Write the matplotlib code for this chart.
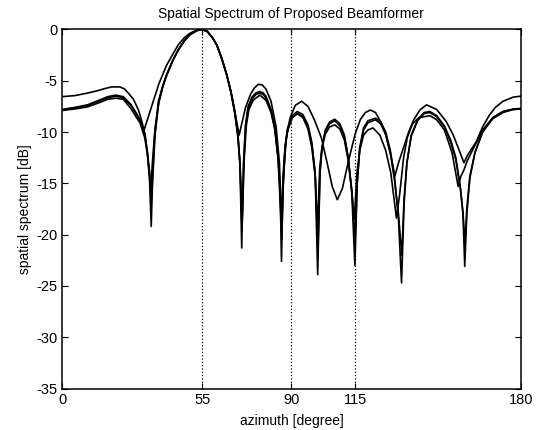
import numpy as np
import matplotlib
matplotlib.use('Agg')
import matplotlib.pyplot as plt

plt.rcParams['font.family'] = ['Liberation Sans', 'DejaVu Sans']
plt.rcParams['axes.unicode_minus'] = False

# curve A (thin, upper one)
az_a = [0, 5, 10, 13.5, 17, 19.5, 22.7, 24.5, 26, 28, 30, 31, 32.2, 33.5, 35.8, 38, 41, 43.5, 45.6, 48,
        50.2, 53, 55, 57, 59, 60.7, 62.5, 64.6, 66.3, 67.8, 69.5, 70.5, 72, 74, 75.5, 77, 78.5, 80, 82, 84,
        85.3, 86.1, 87, 88, 89.5, 91.5, 94, 96.5, 99, 101.8, 104, 106, 108, 110, 111.5, 113, 115, 117,
        119, 121, 123, 125, 127, 129, 130.6, 132, 134, 136, 138, 140.4, 143, 147, 150.8, 153.5, 156,
        157.7, 159, 162.6, 165, 167.8, 170, 173, 177, 180]
db_a = [-6.55, -6.45, -6.2, -6.0, -5.75, -5.6, -5.6, -5.8, -6.2, -6.8, -7.85, -8.7, -9.8, -8.8, -7.0,
        -5.3, -3.5, -2.4, -1.5, -0.8, -0.37, -0.05, 0, -0.2, -0.8, -1.5, -2.7, -4.4, -6.1, -8.0, -10.3,
        -9.2, -7.6, -6.3, -5.7, -5.35, -5.4, -5.8, -7.0, -9.5, -13.0, -19.5, -14.0, -10.5, -8.6, -7.4,
        -7.0, -7.5, -8.8, -10.6, -13.0, -15.3, -16.6, -15.5, -13.8, -12.2, -10.2, -8.8, -8.1, -7.85,
        -8.1, -9.0, -10.3, -12.3, -14.3, -13.0, -11.5, -10.0, -8.8, -7.85, -7.35, -7.8, -9.0, -10.3,
        -11.9, -13.0, -12.3, -10.9, -9.5, -8.3, -7.6, -7.0, -6.6, -6.5]

# curve B (deep nulls)
az_b = [0, 5, 10, 15, 18, 21, 24, 27, 29, 30.6, 32.5, 33.5, 34.3, 35, 35.6, 36.3, 37.8, 39.5, 41, 43.5,
        45.6, 48, 50.2, 53, 55, 57, 59, 60.7, 62.5, 64.6, 66.3, 67.8, 69, 69.8, 70.5, 71.2, 72, 73, 74.5,
        76, 77.6, 79, 80, 82, 83.5, 84.8, 85.6, 86.1, 86.7, 87.5, 88.5, 90.3, 92.3, 94.5, 96.5, 98, 99.3,
        100.3, 101.2, 102, 103.3, 105, 107, 109, 110.8, 112.3, 113.7, 114.9, 115.8, 116.8, 118.3, 120,
        123, 125, 127, 128.8, 130.5, 132, 133.2, 134.2, 135.3, 137, 139.5, 142, 144.3, 147, 150, 152.5,
        154.5, 156.3, 157.3, 158, 158.8, 160, 162, 165, 169, 173, 177, 180]
db_b = [-7.8, -7.6, -7.35, -6.85, -6.55, -6.4, -6.55, -7.3, -8.1, -8.8, -10.1, -12.0, -14.5, -19.2,
        -14.0, -10.5, -7.0, -5.5, -4.4, -3.0, -2.0, -1.1, -0.5, -0.1, 0, -0.2, -0.8, -1.5, -2.7, -4.4,
        -6.1, -8.0, -10.2, -13.0, -21.3, -13.0, -9.3, -7.5, -6.6, -6.2, -6.05, -6.2, -6.5, -7.8, -9.5,
        -12.5, -16.0, -22.6, -15.0, -11.5, -9.6, -8.4, -8.0, -8.3, -9.3, -11.0, -14.0, -23.9, -14.0,
        -11.5, -9.8, -9.0, -8.75, -9.2, -10.3, -12.5, -16.0, -23.0, -15.0, -11.5, -9.6, -8.9, -8.65,
        -9.0, -10.0, -11.8, -14.5, -18.5, -24.7, -17.0, -13.0, -10.3, -8.8, -8.1, -8.0, -8.4, -9.4,
        -10.8, -12.5, -15.5, -18.0, -23.1, -18.0, -14.5, -12.0, -10.0, -8.6, -8.0, -7.75, -7.7]

# curve C (close to B, shallower nulls)
az_c = [0, 5, 10, 15, 18, 21, 24, 27, 29, 30.6, 32.5, 33.5, 34.4, 35.1, 35.8, 36.5, 37.9, 39.5, 41, 43.5,
        45.6, 48, 50.2, 53, 55, 57, 59, 60.7, 62.5, 64.6, 66.3, 67.8, 69, 69.8, 70.6, 71.3, 72, 73, 74.5,
        76, 77.6, 79, 80, 82, 83.5, 84.8, 85.6, 86.2, 86.8, 87.5, 88.5, 90.3, 92.3, 94.5, 96.5, 98, 99.3,
        100.4, 101.2, 102, 103.3, 105, 107, 109, 110.8, 112.3, 113.7, 115, 115.8, 116.8, 118.3, 120,
        123, 125, 127, 128.8, 130.5, 132, 133.3, 134.2, 135.3, 137, 139.5, 142, 144.3, 147, 150, 152.5,
        154.5, 156.3, 157.3, 158.1, 158.8, 160, 162, 165, 169, 173, 177, 180]
db_c = [-7.85, -7.65, -7.4, -6.95, -6.65, -6.5, -6.65, -7.4, -8.2, -8.95, -10.3, -12.0, -14.0, -16.6,
        -13.5, -10.3, -7.2, -5.6, -4.5, -3.0, -2.0, -1.1, -0.5, -0.1, 0, -0.2, -0.8, -1.5, -2.7, -4.4,
        -6.1, -8.1, -10.3, -13.0, -19.5, -13.0, -9.5, -7.7, -6.8, -6.35, -6.2, -6.35, -6.7, -7.9, -9.6,
        -12.5, -15.5, -20.5, -15.0, -11.7, -9.8, -8.6, -8.2, -8.5, -9.5, -11.2, -14.0, -21.5, -14.0,
        -11.6, -9.9, -9.2, -8.9, -9.4, -10.5, -12.6, -15.8, -20.5, -15.0, -11.7, -9.8, -9.1, -8.8,
        -9.2, -10.2, -12.0, -14.8, -18.0, -22.0, -16.5, -13.0, -10.4, -8.9, -8.2, -8.1, -8.5, -9.5,
        -11.0, -12.7, -15.5, -17.8, -21.0, -17.5, -14.3, -12.0, -10.0, -8.7, -8.1, -7.8, -7.75]

# curve D (lowest side lobes)
az_d = [0, 5, 10, 15, 18, 21, 24, 27, 29, 30.6, 32.5, 33.5, 34.8, 35.6, 36.5, 38, 39.5, 41, 43.5,
        45.6, 48, 50.2, 53, 55, 57, 59, 60.7, 62.5, 64.6, 66.3, 67.8, 69, 69.9, 70.7, 71.5, 72.3, 73.3,
        75, 77.6, 80, 82, 83.5, 84.8, 85.9, 86.8, 87.6, 88.6, 90.3, 92.3, 94.5, 96.5, 98, 99.4, 100.2,
        101.1, 102, 103.3, 105, 107, 109, 110.8, 112.3, 113.6, 114.7, 115.7, 116.8, 118.3, 120, 122,
        124.7, 127, 129, 131.2, 132.5, 134, 135.5, 137.5, 140, 144.3, 147, 150, 153, 155.4, 156.5, 157.5,
        159, 162, 165, 169, 173, 177, 180]
db_d = [-7.9, -7.75, -7.55, -7.1, -6.8, -6.7, -6.8, -7.7, -8.5, -9.1, -10.6, -12.2, -15.5, -12.5,
        -9.6, -7.1, -5.6, -4.5, -3.0, -2.0, -1.1, -0.5, -0.1, 0, -0.2, -0.8, -1.5, -2.7, -4.4, -6.2, -8.2,
        -10.5, -13.5, -18.5, -12.5, -9.4, -7.8, -6.9, -6.4, -6.9, -8.1, -9.8, -12.8, -18.5, -14.0, -11.2,
        -9.8, -8.6, -8.2, -8.6, -9.7, -11.5, -14.5, -19.5, -13.5, -11.5, -10.2, -9.5, -9.3, -9.7, -10.8,
        -12.8, -15.5, -18.5, -14.0, -11.8, -10.3, -9.8, -9.6, -10.3, -11.8, -14.0, -18.4, -16.0, -12.5,
        -10.5, -9.2, -8.6, -8.4, -8.8, -9.8, -12.0, -15.3, -14.3, -13.8, -12.8, -11.3, -9.8, -8.6, -8.0,
        -7.8, -7.75]

look_dirs = [55, 90, 115]
xticks = [0, 55, 90, 115, 180]
yticks = [0, -5, -10, -15, -20, -25, -30, -35]

fig = plt.figure(figsize=(5.36, 4.30), dpi=100)
ax = fig.add_axes([0.1157, 0.0965, 0.856, 0.835])

for az, db in [(az_a, db_a), (az_b, db_b), (az_c, db_c), (az_d, db_d)]:
    ax.plot(az, db, color='black', lw=1.2)

for d in look_dirs:
    ax.plot([d, d], [-35, 0], color='black', ls=':', lw=0.9)

ax.set_xlim(0, 180)
ax.set_ylim(-35, 0)
ax.set_xticks(xticks)
ax.set_yticks(yticks)
ax.set_xticklabels([str(t) for t in xticks])
ax.set_yticklabels([str(t) for t in yticks])
ax.tick_params(direction='in', top=True, right=True, labelsize=10.5, length=4, width=0.8, pad=3)
for s in ax.spines.values():
    s.set_linewidth(1.1)

ax.set_xlabel('azimuth [degree]', fontsize=10, labelpad=5)
ax.set_ylabel('spatial spectrum [dB]', fontsize=10, labelpad=3)
ax.set_title('Spatial Spectrum of Proposed Beamformer', fontsize=10, pad=8)

fig.savefig('out.png', dpi=100)
